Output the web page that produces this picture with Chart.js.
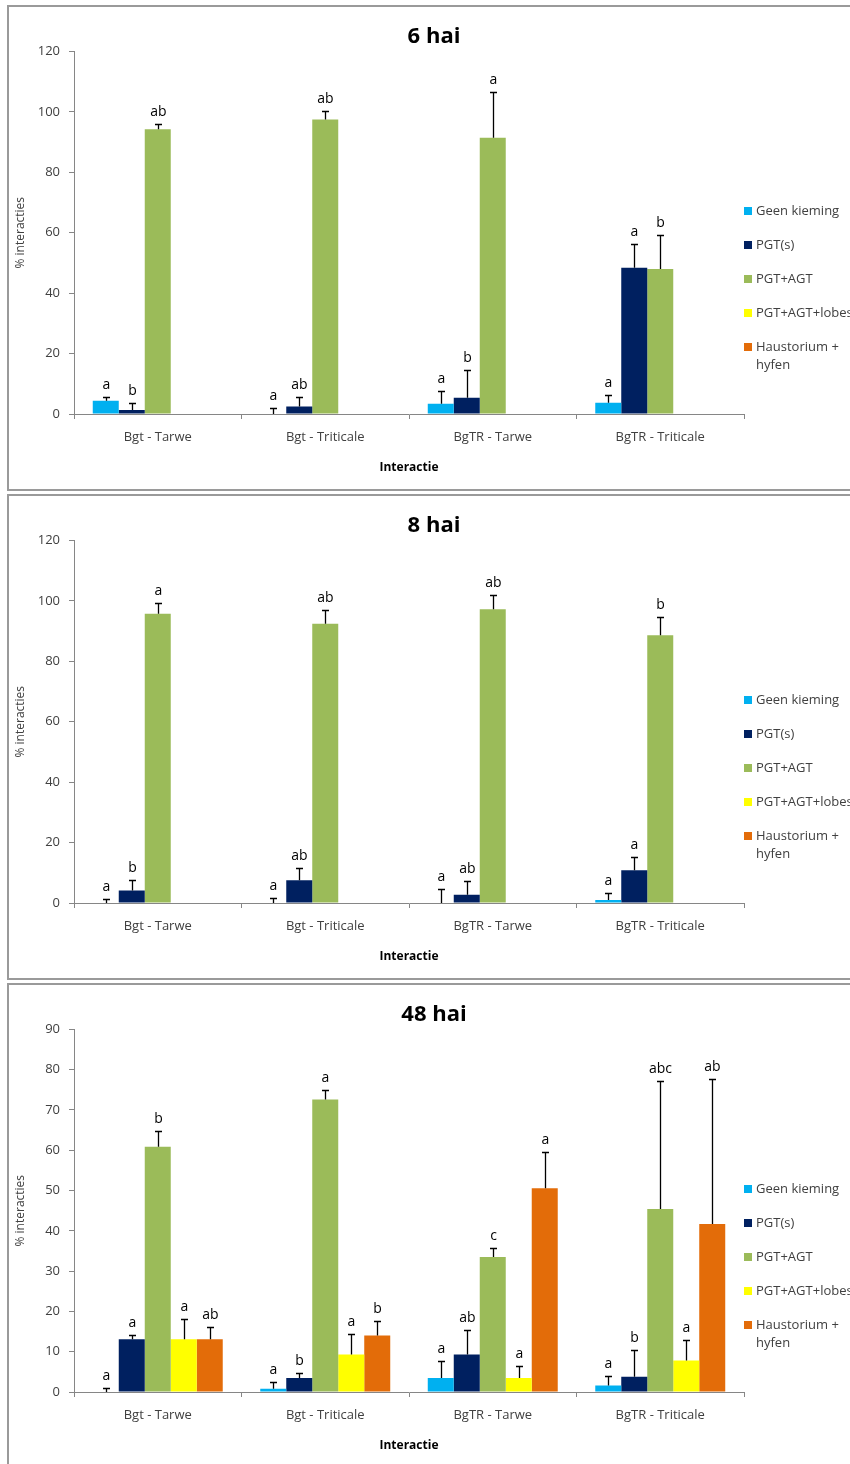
<!DOCTYPE html>
<html>
<head>
<meta charset="utf-8">
<script src="https://cdn.jsdelivr.net/npm/chart.js@4.4.0/dist/chart.umd.min.js"></script>
<style>
  html, body { margin: 0; padding: 0; background: #fff; overflow: hidden; width: 850px; height: 1464px; }
  .panel { position: absolute; left: 7px; width: 880px; height: 482px; border: 2px solid #9a9a9a; background: #fff; }
  .panel canvas { position: absolute; left: 0; top: 0; }
</style>
</head>
<body>
<div class="panel" style="top:5px"><canvas id="c6" width="850" height="482"></canvas></div>
<div class="panel" style="top:494px"><canvas id="c8" width="850" height="482"></canvas></div>
<div class="panel" style="top:983px"><canvas id="c48" width="850" height="482"></canvas></div>
<script>
// ---------- data ----------
const categories = ['Bgt - Tarwe', 'Bgt - Triticale', 'BgTR - Tarwe', 'BgTR - Triticale'];
const seriesNames = ['Geen kieming', 'PGT(s)', 'PGT+AGT', 'PGT+AGT+lobes', ['Haustorium +', 'hyfen']];
const titles = ['6 hai', '8 hai', '48 hai'];
const yTitle = '% interacties';
const xTitle = 'Interactie';

// 6 hai
const geen6 = [4.4, 0, 3.4, 3.7];
const geen6Err = [1.1, 2.0, 4.2, 2.7];
const geen6Sig = ['a', 'a', 'a', 'a'];
const pgt6 = [1.3, 2.5, 5.4, 48.4];
const pgt6Err = [2.5, 3.0, 9.3, 7.7];
const pgt6Sig = ['b', 'ab', 'b', 'a'];
const agt6 = [94.2, 97.5, 91.4, 48.0];
const agt6Err = [1.8, 2.9, 15.0, 11.3];
const agt6Sig = ['ab', 'ab', 'a', 'b'];
const lobes6 = [null, null, null, null];
const haus6 = [null, null, null, null];

// 8 hai
const geen8 = [0, 0, 0, 1.0];
const geen8Err = [1.2, 1.8, 4.6, 2.4];
const geen8Sig = ['a', 'a', 'a', 'a'];
const pgt8 = [4.1, 7.5, 2.7, 10.8];
const pgt8Err = [3.5, 4.1, 4.7, 4.5];
const pgt8Sig = ['b', 'ab', 'ab', 'a'];
const agt8 = [95.7, 92.4, 97.2, 88.6];
const agt8Err = [3.7, 4.5, 4.6, 6.0];
const agt8Sig = ['a', 'ab', 'ab', 'b'];
const lobes8 = [null, null, null, null];
const haus8 = [null, null, null, null];

// 48 hai
const geen48 = [0, 0.8, 3.5, 1.6];
const geen48Err = [1.1, 1.7, 4.3, 2.4];
const geen48Sig = ['a', 'a', 'a', 'a'];
const pgt48 = [13.1, 3.5, 9.3, 3.8];
const pgt48Err = [1.1, 1.1, 6.1, 6.7];
const pgt48Sig = ['a', 'b', 'ab', 'b'];
const agt48 = [60.9, 72.6, 33.5, 45.4];
const agt48Err = [3.9, 2.4, 2.2, 31.8];
const agt48Sig = ['b', 'a', 'c', 'abc'];
const lobes48 = [13.1, 9.3, 3.5, 7.8];
const lobes48Err = [4.9, 5.1, 3.0, 5.0];
const lobes48Sig = ['a', 'a', 'a', 'a'];
const haus48 = [13.1, 14.0, 50.6, 41.7];
const haus48Err = [3.1, 3.7, 9.0, 35.9];
const haus48Sig = ['ab', 'b', 'a', 'ab'];

const yMax6 = 120, yStep6 = 20;
const yMax8 = 120, yStep8 = 20;
const yMax48 = 90, yStep48 = 10;

// ---------- styles ----------
const colors = ['#00B0F0', '#002060', '#9BBB59', '#FFFF00', '#E36C09'];
const FONT = "'Open Sans', 'Liberation Sans', sans-serif";
const textGray = '#404040';
const axisGray = '#868686';

const errorBarPlugin = {
  id: 'errorBars',
  afterDatasetsDraw(chart) {
    const ctx = chart.ctx;
    const ys = chart.scales.y;
    ctx.save();
    chart.data.datasets.forEach((ds, d) => {
      const meta = chart.getDatasetMeta(d);
      ds.data.forEach((v, i) => {
        if (v === null || !ds.errors || ds.errors[i] == null) return;
        const x = Math.round(meta.data[i].x) + 0.5;
        const yb = ys.getPixelForValue(v);
        const yt = Math.round(ys.getPixelForValue(v + ds.errors[i])) + 0.5;
        ctx.strokeStyle = '#000';
        ctx.lineWidth = 1.3;
        ctx.beginPath();
        ctx.moveTo(x, yb);
        ctx.lineTo(x, yt);
        ctx.moveTo(x - 3.5, yt);
        ctx.lineTo(x + 3.5, yt);
        ctx.stroke();
        if (ds.sig && ds.sig[i]) {
          ctx.fillStyle = '#000';
          ctx.font = '14px ' + FONT;
          ctx.textAlign = 'center';
          ctx.textBaseline = 'middle';
          ctx.fillText(ds.sig[i], x, yt - 12);
        }
      });
    });
    ctx.restore();
  }
};

const legendPlugin = {
  id: 'customLegend',
  afterDraw(chart) {
    const ctx = chart.ctx;
    const area = chart.chartArea;
    ctx.save();
    ctx.font = '13px ' + FONT;
    ctx.textAlign = 'left';
    ctx.textBaseline = 'middle';
    seriesNames.forEach((name, i) => {
      const y = area.top + 160 + i * 34;
      ctx.fillStyle = colors[i];
      ctx.fillRect(area.right, Math.round(y) - 4, 8, 8);
      ctx.fillStyle = textGray;
      const lines = Array.isArray(name) ? name : [name];
      lines.forEach((ln, k) => ctx.fillText(ln, area.right + 12, y + k * 18));
    });
    ctx.restore();
  }
};

function makeChart(id, title, series, yMax, yStep) {
  const datasets = series.map((s, i) => ({
    label: Array.isArray(seriesNames[i]) ? seriesNames[i].join(' ') : seriesNames[i],
    data: s.values,
    errors: s.errors,
    sig: s.sig,
    backgroundColor: colors[i],
    borderWidth: 0,
    barPercentage: 1.0,
    categoryPercentage: 0.776
  }));
  return new Chart(document.getElementById(id), {
    type: 'bar',
    data: { labels: categories, datasets },
    options: {
      responsive: false,
      animation: false,
      devicePixelRatio: 1,
      layout: { padding: 0 },
      plugins: {
        legend: { display: false },
        tooltip: { enabled: false },
        title: {
          display: true,
          text: title,
          color: '#000',
          font: { family: FONT, size: 22, weight: 'bold' },
          padding: { top: 17, bottom: 1 }
        }
      },
      scales: {
        x: {
          offset: true,
          grid: { display: true, drawOnChartArea: false, drawTicks: true, tickLength: 5, color: axisGray, offset: true },
          border: { display: true, color: axisGray },
          ticks: { color: textGray, font: { family: FONT, size: 13 }, padding: 10, maxRotation: 0 },
          title: { display: true, text: xTitle, color: '#000', font: { family: FONT, size: 12, weight: 'bold' }, padding: { top: 4, bottom: 14 } },
          afterFit: s => { s.height = 75; }
        },
        y: {
          min: 0,
          max: yMax,
          ticks: { stepSize: yStep, color: textGray, font: { family: FONT, size: 13 }, padding: 9 },
          grid: { display: true, drawOnChartArea: false, drawTicks: true, tickLength: 5, color: axisGray },
          border: { display: true, color: axisGray },
          title: { display: true, text: yTitle, color: textGray, font: { family: FONT, size: 12 }, padding: { top: 4, bottom: 0 } },
          afterFit: s => { s.width = 65; }
        },
        yR: {
          position: 'right',
          display: true,
          ticks: { display: false },
          grid: { display: false },
          border: { display: false },
          afterFit: s => { s.width = 115; }
        }
      }
    },
    plugins: [errorBarPlugin, legendPlugin]
  });
}

makeChart('c6', titles[0], [
  { values: geen6, errors: geen6Err, sig: geen6Sig },
  { values: pgt6, errors: pgt6Err, sig: pgt6Sig },
  { values: agt6, errors: agt6Err, sig: agt6Sig },
  { values: lobes6, errors: null, sig: null },
  { values: haus6, errors: null, sig: null }
], yMax6, yStep6);

makeChart('c8', titles[1], [
  { values: geen8, errors: geen8Err, sig: geen8Sig },
  { values: pgt8, errors: pgt8Err, sig: pgt8Sig },
  { values: agt8, errors: agt8Err, sig: agt8Sig },
  { values: lobes8, errors: null, sig: null },
  { values: haus8, errors: null, sig: null }
], yMax8, yStep8);

makeChart('c48', titles[2], [
  { values: geen48, errors: geen48Err, sig: geen48Sig },
  { values: pgt48, errors: pgt48Err, sig: pgt48Sig },
  { values: agt48, errors: agt48Err, sig: agt48Sig },
  { values: lobes48, errors: lobes48Err, sig: lobes48Sig },
  { values: haus48, errors: haus48Err, sig: haus48Sig }
], yMax48, yStep48);
</script>
</body>
</html>
